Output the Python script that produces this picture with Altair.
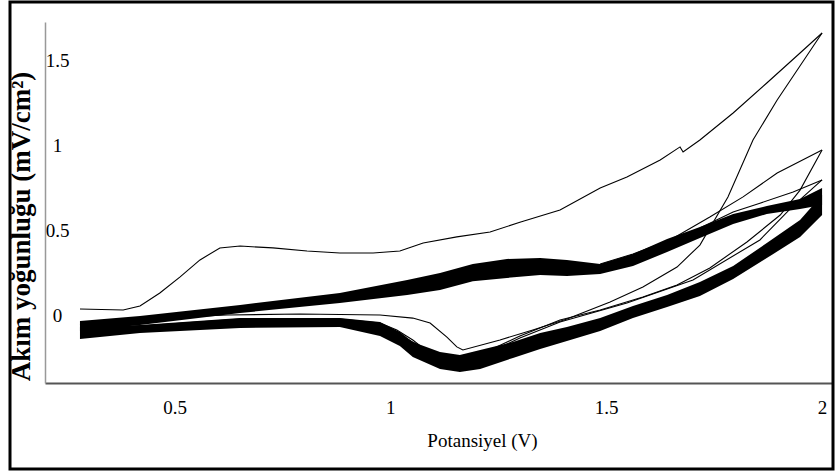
import altair as alt
import pandas as pd

# ---- axis ticks ----
x_ticks = [0.5, 1, 1.5, 2]
y_ticks = [0, 0.5, 1, 1.5]

# ---- dense band of repeated cycles: forward (anodic) scan ----
fwd_band_v   = [0.281, 0.420, 0.652, 0.883, 1.039, 1.115, 1.191, 1.270, 1.347, 1.409, 1.486, 1.562, 1.641, 1.717, 1.794, 1.872, 1.949, 2.000]
fwd_band_top = [-0.034, -0.005, 0.060, 0.131, 0.208, 0.249, 0.302, 0.332, 0.337, 0.326, 0.302, 0.361, 0.450, 0.520, 0.597, 0.644, 0.686, 0.750]
fwd_band_bot = [-0.093, -0.058, 0.013, 0.072, 0.119, 0.149, 0.201, 0.220, 0.237, 0.231, 0.243, 0.290, 0.373, 0.455, 0.538, 0.597, 0.627, 0.650]

# ---- dense band: reverse (cathodic) scan ----
rev_band_v   = [0.281, 0.420, 0.652, 0.883, 0.976, 1.022, 1.052, 1.115, 1.161, 1.208, 1.284, 1.347, 1.409, 1.486, 1.562, 1.641, 1.717, 1.794, 1.872, 1.949, 2.000]
rev_band_top = [-0.070, -0.058, -0.017, -0.017, -0.040, -0.099, -0.158, -0.217, -0.235, -0.205, -0.158, -0.105, -0.070, -0.017, 0.054, 0.119, 0.196, 0.290, 0.426, 0.562, 0.709]
rev_band_bot = [-0.140, -0.105, -0.075, -0.070, -0.123, -0.182, -0.247, -0.317, -0.335, -0.317, -0.252, -0.199, -0.152, -0.093, -0.017, 0.048, 0.113, 0.213, 0.337, 0.462, 0.591]

# ---- first cycle ----
c1_fwd_v = [0.281, 0.381, 0.420, 0.466, 0.513, 0.559, 0.605, 0.652, 0.728, 0.807, 0.883, 0.960, 1.022, 1.076, 1.154, 1.231, 1.300, 1.393, 1.486, 1.548, 1.625, 1.671, 1.678, 1.717, 1.794, 1.872, 1.949, 2.000]
c1_fwd_i = [0.037, 0.031, 0.054, 0.131, 0.226, 0.326, 0.397, 0.408, 0.397, 0.379, 0.367, 0.367, 0.379, 0.426, 0.462, 0.491, 0.548, 0.621, 0.751, 0.816, 0.916, 0.993, 0.963, 1.034, 1.193, 1.370, 1.547, 1.665]
c1_rev_v = [2.000, 1.896, 1.840, 1.782, 1.717, 1.664, 1.585, 1.509, 1.409, 1.330, 1.254, 1.168, 1.154, 1.131, 1.092, 1.052, 0.976, 0.791, 0.622, 0.443, 0.281]
c1_rev_i = [1.665, 1.270, 1.034, 0.698, 0.414, 0.284, 0.166, 0.078, -0.023, -0.087, -0.146, -0.205, -0.187, -0.129, -0.046, -0.017, 0.001, 0.007, 0.001, -0.017, -0.058]

# ---- second cycle ----
c2_fwd_v = [1.486, 1.562, 1.648, 1.740, 1.817, 1.896, 2.000]
c2_fwd_i = [0.302, 0.361, 0.444, 0.579, 0.698, 0.839, 0.975]
c2_rev_v = [2.000, 1.949, 1.903, 1.826, 1.740, 1.664, 1.585, 1.486, 1.393, 1.300, 1.231, 1.173, 1.127, 1.099, 1.076, 1.052, 1.015, 0.976, 0.883, 0.652, 0.420, 0.281]
c2_rev_i = [0.975, 0.738, 0.591, 0.432, 0.279, 0.178, 0.107, 0.031, -0.028, -0.123, -0.205, -0.264, -0.264, -0.247, -0.194, -0.146, -0.087, -0.046, -0.023, -0.023, -0.064, -0.087]

# ---- third cycle ----
c3_fwd_v = [1.717, 1.794, 1.856, 1.933, 2.000]
c3_fwd_i = [0.514, 0.609, 0.661, 0.727, 0.798]
c3_rev_v = [2.000, 1.933, 1.856, 1.701, 1.548, 1.393, 1.300, 1.231, 1.184, 1.138, 1.110, 1.087, 1.064, 1.022, 0.976]
c3_rev_i = [0.798, 0.645, 0.444, 0.208, 0.072, -0.040, -0.134, -0.217, -0.276, -0.282, -0.264, -0.217, -0.176, -0.117, -0.064]

# ---- tables ----
band_rows = []
for name, vs, tops, bots in [("fwd", fwd_band_v, fwd_band_top, fwd_band_bot),
                             ("rev", rev_band_v, rev_band_top, rev_band_bot)]:
    for v, t, b in zip(vs, tops, bots):
        band_rows.append({"s": name, "V": v, "I": t, "I2": b})
band_df = pd.DataFrame(band_rows)

line_rows = []
for name, vs, is_ in [("c1f", c1_fwd_v, c1_fwd_i), ("c1r", c1_rev_v, c1_rev_i),
                      ("c2f", c2_fwd_v, c2_fwd_i), ("c2r", c2_rev_v, c2_rev_i),
                      ("c3f", c3_fwd_v, c3_fwd_i), ("c3r", c3_rev_v, c3_rev_i)]:
    for k, (v, i) in enumerate(zip(vs, is_)):
        line_rows.append({"s": name, "k": k, "V": v, "I": i})
line_df = pd.DataFrame(line_rows)

serif = "Liberation Serif, Times New Roman, serif"

x_enc = alt.X("V:Q",
              scale=alt.Scale(domain=[0.2, 2.023], nice=False, zero=False),
              axis=alt.Axis(values=x_ticks, format="~g", grid=False, ticks=False,
                            domainColor="#555555", domainWidth=2,
                            labelFont=serif, labelFontSize=19, labelColor="black",
                            labelPadding=15, labelFlush=False,
                            title="Potansiyel (V)", titleFont=serif, titleFontSize=19,
                            titleFontWeight="normal", titleColor="black",
                            titleX=437, titleY=57, titleBaseline="middle", titleAlign="center"))
y_enc = alt.Y("I:Q",
              scale=alt.Scale(domain=[-0.4, 1.73], nice=False, zero=False),
              axis=alt.Axis(values=y_ticks, format="~g", grid=False, ticks=False,
                            domainColor="#999999", domainWidth=1.5,
                            labelFont=serif, labelFontSize=19, labelColor="black",
                            labelAlign="center", labelBaseline="middle", labelPadding=-12,
                            title="Akım yoğunluğu (mV/cm²)", titleFont=serif,
                            titleFontSize=27, titleFontWeight="bold", titleColor="black",
                            titleAngle=270, titleX=-24, titleY=204,
                            titleAlign="center", titleBaseline="middle"))

bands = alt.Chart(band_df).mark_area(color="black", opacity=1).encode(
    x=x_enc, y=y_enc, y2="I2:Q", detail="s:N")

lines = alt.Chart(line_df).mark_line(color="black", strokeWidth=1.1).encode(
    x=x_enc, y=y_enc, detail="s:N", order="k:Q")

frame = alt.Chart(pd.DataFrame({"a": [0]})).mark_rect(
    fillOpacity=0, stroke="black", strokeWidth=3).encode(
    x=alt.value(-35), x2=alt.value(788), y=alt.value(-20), y2=alt.value(447))

chart = alt.layer(bands, lines, frame).properties(
    width=787, height=361,
    autosize=alt.AutoSizeParams(type="none"),
    padding={"left": 45, "top": 22, "right": 3, "bottom": 88},
    background="white",
).configure_view(stroke=None)

chart.save("out.html", embed_options={"renderer": "svg", "actions": False})
